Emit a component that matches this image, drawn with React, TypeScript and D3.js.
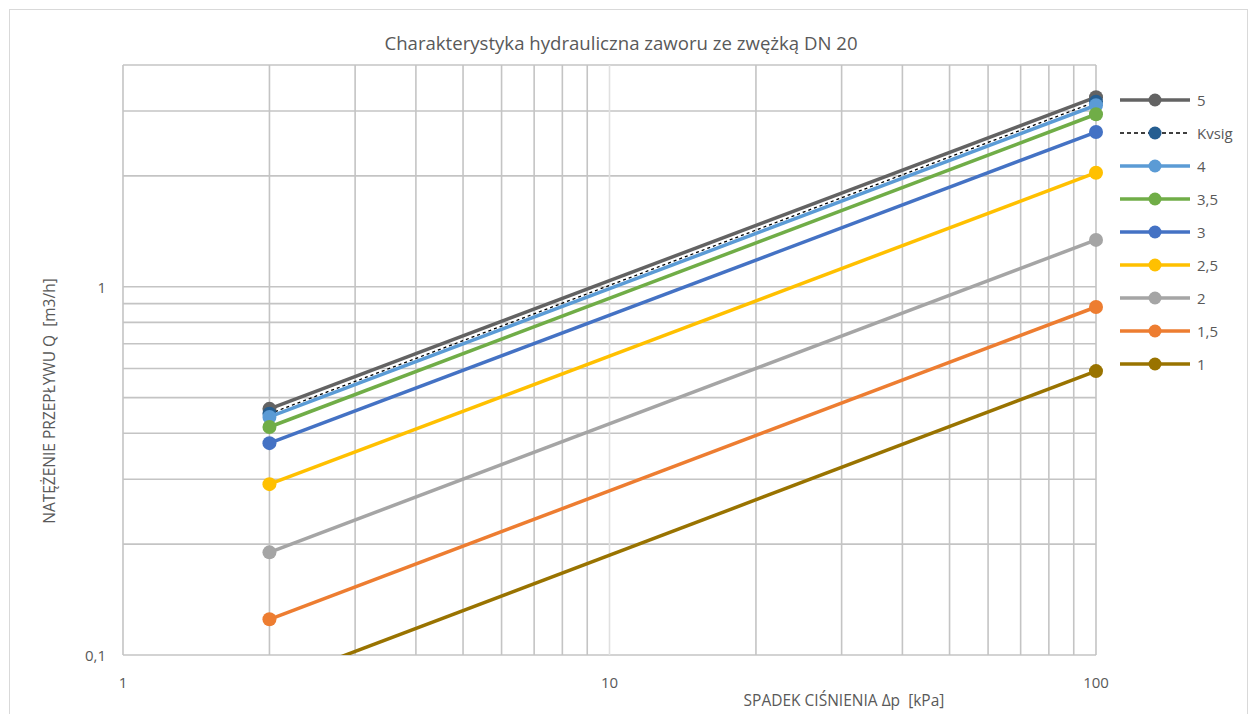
import * as d3 from 'd3';
import React, { useRef, useEffect } from 'react';

// pressure drop points [kPa]
const pressureDrops = [2, 100];

const seriesNames = ['5', 'Kvsig', '4', '3,5', '3', '2,5', '2', '1,5', '1'];
// flow at 2 kPa and at 100 kPa [m3/h]
const flowAt2 = [0.466, 0.452, 0.443, 0.416, 0.376, 0.291, 0.19, 0.125, 0.0835];
const flowAt100 = [3.27, 3.18, 3.11, 2.94, 2.63, 2.04, 1.34, 0.881, 0.59];
const seriesColors = ['#636363', '#255E91', '#5B9BD5', '#70AD47', '#4472C4', '#FFC000', '#A5A5A5', '#ED7D31', '#997300'];

const xGrid = [1, 2, 3, 4, 5, 6, 7, 8, 9, 10, 20, 30, 40, 50, 60, 70, 80, 90, 100];
const yGrid = [0.1, 0.2, 0.3, 0.4, 0.5, 0.6, 0.7, 0.8, 0.9, 1, 2, 3, 4];
const xTicks = [1, 10, 100];
const yTicks = [0.1, 1];

const FONT = "'Open Sans', 'Liberation Sans', sans-serif";
const TEXT = '#595959';

function App() {
  const ref = useRef(null);

  useEffect(() => {
    const svg = d3.select(ref.current);
    svg.selectAll('*').remove();

    const x = d3.scaleLog().domain([1, 100]).range([123, 1096]);
    const y = d3.scaleLog().domain([0.1, 4]).range([655, 65]);
    const fmt = (v) => String(v).replace('.', ',');

    // chart frame
    svg.append('rect')
      .attr('x', 9.5).attr('y', 9.5)
      .attr('width', 1238).attr('height', 720)
      .attr('fill', 'white').attr('stroke', '#d9d9d9');

    svg.append('text')
      .attr('x', 621).attr('y', 50)
      .attr('text-anchor', 'middle')
      .attr('font-family', FONT).attr('font-size', 18.6)
      .attr('fill', TEXT)
      .text('Charakterystyka hydrauliczna zaworu ze zwężką DN 20');

    const grid = svg.append('g');
    grid.selectAll('line.h').data(yGrid).enter().append('line')
      .attr('x1', x(1)).attr('x2', x(100))
      .attr('y1', (d) => y(d)).attr('y2', (d) => y(d))
      .attr('stroke', '#c4c4c4').attr('stroke-width', 1.6);
    grid.selectAll('line.v').data(xGrid).enter().append('line')
      .attr('y1', y(0.1)).attr('y2', y(4))
      .attr('x1', (d) => x(d)).attr('x2', (d) => x(d))
      .attr('stroke', (d) => (d === 10 ? '#e0e0e0' : '#c4c4c4'))
      .attr('stroke-width', 1.6);

    svg.selectAll('text.xt').data(xTicks).enter().append('text')
      .attr('x', (d) => x(d)).attr('y', 688)
      .attr('text-anchor', 'middle')
      .attr('font-family', FONT).attr('font-size', 15).attr('fill', TEXT)
      .text((d) => fmt(d));
    svg.selectAll('text.yt').data(yTicks).enter().append('text')
      .attr('x', 106).attr('y', (d) => y(d) + 6)
      .attr('text-anchor', 'end')
      .attr('font-family', FONT).attr('font-size', 15).attr('fill', TEXT)
      .text((d) => fmt(d));

    svg.append('text')
      .attr('x', 844).attr('y', 706)
      .attr('text-anchor', 'middle')
      .style('white-space', 'pre')
      .attr('font-family', FONT).attr('font-size', 15.5).attr('fill', TEXT)
      .text('SPADEK CIŚNIENIA Δp  [kPa]');
    svg.append('text')
      .attr('transform', 'translate(55,401) rotate(-90)')
      .attr('text-anchor', 'middle')
      .style('white-space', 'pre')
      .attr('font-family', FONT).attr('font-size', 15.5).attr('fill', TEXT)
      .text('NATĘŻENIE PRZEPŁYWU Q  [m3/h]');

    svg.append('clipPath').attr('id', 'plot-clip')
      .append('rect').attr('x', 123).attr('y', 60).attr('width', 990).attr('height', 595);

    const series = seriesNames.map((name, i) => ({
      name,
      color: seriesColors[i],
      dashed: name === 'Kvsig',
      points: pressureDrops.map((p, j) => [p, j === 0 ? flowAt2[i] : flowAt100[i]]),
    }));

    const line = d3.line().x((d) => x(d[0])).y((d) => y(d[1]));
    const plot = svg.append('g').attr('clip-path', 'url(#plot-clip)');

    series.forEach((s) => {
      plot.append('path')
        .attr('d', line(s.points))
        .attr('fill', 'none')
        .attr('stroke', s.dashed ? '#000' : s.color)
        .attr('stroke-width', s.dashed ? 1.3 : 3.5)
        .attr('stroke-dasharray', s.dashed ? '3,3' : null);
      plot.selectAll(null).data(s.points).enter().append('circle')
        .attr('cx', (d) => x(d[0])).attr('cy', (d) => y(d[1]))
        .attr('r', 7).attr('fill', s.color);
    });

    // legend
    const legend = svg.append('g');
    series.forEach((s, i) => {
      const ly = 100 + i * 33;
      legend.append('line')
        .attr('x1', 1120).attr('x2', 1190).attr('y1', ly).attr('y2', ly)
        .attr('stroke', s.dashed ? '#000' : s.color)
        .attr('stroke-width', s.dashed ? 1.3 : 3.5)
        .attr('stroke-dasharray', s.dashed ? '4,3' : null);
      legend.append('circle')
        .attr('cx', 1155).attr('cy', ly).attr('r', 6.5).attr('fill', s.color);
      legend.append('text')
        .attr('x', 1197).attr('y', ly + 5.5)
        .attr('font-family', FONT).attr('font-size', 15).attr('fill', TEXT)
        .text(s.name);
    });
  }, []);

  return (
    <svg ref={ref} width={1249} height={714}
      style={{ position: 'absolute', left: 0, top: 0, background: 'white' }}>
    </svg>
  );
}

export default App;
